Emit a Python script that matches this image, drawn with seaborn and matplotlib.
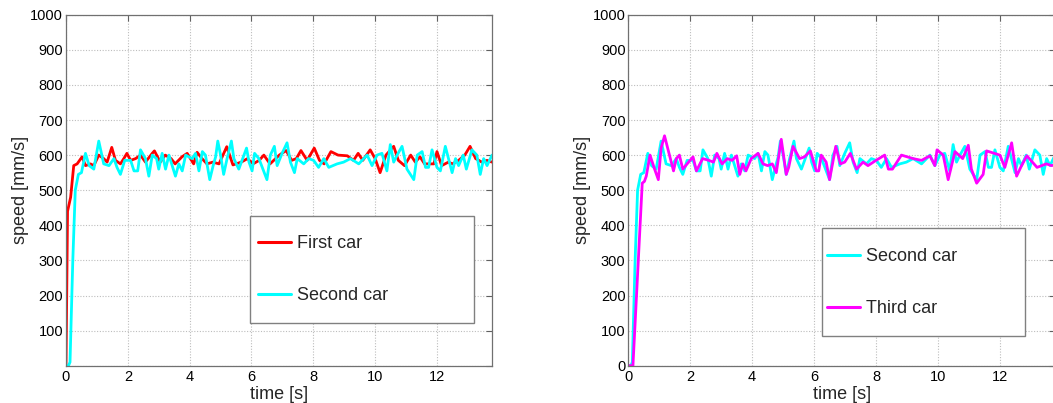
import numpy as np
import pandas as pd
import matplotlib
matplotlib.use("Agg")
import matplotlib.pyplot as plt
import seaborn as sns
from matplotlib.patches import Rectangle

# first car (left panel, red)
first_t = [0, 0.05, 0.15, 0.25, 0.36, 0.52, 0.63, 0.79, 0.90, 1.06, 1.22, 1.33, 1.48, 1.60,
           1.76, 1.87, 1.97, 2.09, 2.25, 2.41, 2.57, 2.79, 2.86, 3.05, 3.21, 3.40, 3.53, 3.75,
           3.92, 4.13, 4.24, 4.40, 4.56, 4.75, 4.95, 5.20, 5.40, 5.67, 5.87, 6.05, 6.25, 6.40,
           6.60, 6.90, 7.12, 7.30, 7.45, 7.60, 7.80, 8.03, 8.20, 8.35, 8.57, 8.80, 9.10, 9.30,
           9.45, 9.60, 9.84, 10.00, 10.16, 10.35, 10.60, 10.75, 10.95, 11.15, 11.30, 11.45,
           11.60, 11.90, 12.00, 12.15, 12.37, 12.50, 12.70, 12.90, 13.07, 13.25, 13.45, 13.62, 13.78]
first_v = [0, 440, 480, 570, 575, 595, 570, 575, 570, 600, 590, 580, 622, 585,
           575, 590, 605, 585, 590, 600, 580, 605, 612, 580, 600, 590, 575, 595,
           605, 575, 608, 590, 575, 580, 575, 624, 572, 580, 590, 575, 585, 600,
           575, 600, 613, 585, 590, 613, 585, 620, 585, 575, 610, 600, 598, 585,
           605, 585, 615, 590, 550, 600, 625, 585, 570, 600, 580, 595,
           575, 575, 610, 570, 580, 575, 585, 600, 625, 590, 580, 585, 580]

# second car (both panels, cyan)
second_t = [0, 0.08, 0.13, 0.22, 0.30, 0.40, 0.50, 0.63, 0.75, 0.90, 1.06, 1.22, 1.39, 1.55,
            1.65, 1.76, 1.90, 2.09, 2.20, 2.32, 2.41, 2.57, 2.68, 2.79, 2.93, 3.00, 3.11, 3.22,
            3.33, 3.54, 3.65, 3.76, 3.87, 4.08, 4.19, 4.30, 4.41, 4.51, 4.65, 4.76, 4.84, 4.91,
            5.00, 5.10, 5.21, 5.35, 5.43, 5.59, 5.84, 5.92, 6.02, 6.10, 6.24, 6.50, 6.61, 6.74,
            6.83, 6.99, 7.15, 7.26, 7.39, 7.48, 7.69, 7.85, 8.01, 8.17, 8.34, 8.50, 8.77, 8.98,
            9.20, 9.47, 9.74, 9.90, 10.06, 10.22, 10.38, 10.49, 10.60, 10.71, 10.87, 11.03,
            11.25, 11.36, 11.52, 11.63, 11.73, 11.84, 12.00, 12.11, 12.27, 12.49, 12.60, 12.70,
            12.85, 12.95, 13.13, 13.29, 13.40, 13.51, 13.62, 13.78, 13.90]
second_v = [0, 0, 10, 300, 500, 545, 550, 605, 570, 560, 640, 575, 570, 590,
            565, 545, 585, 585, 555, 555, 615, 590, 540, 600, 590, 560, 605, 560,
            600, 540, 575, 555, 600, 590, 605, 555, 610, 600, 530, 570, 595, 640,
            600, 545, 590, 640, 590, 560, 620, 580, 555, 605, 590, 530, 600, 625,
            570, 605, 635, 580, 550, 590, 575, 590, 585, 565, 590, 565, 575, 580,
            590, 575, 600, 570, 600, 605, 555, 630, 580, 600, 625, 560,
            530, 600, 610, 565, 565, 615, 565, 555, 625, 550, 590, 570,
            600, 560, 615, 600, 545, 590, 570, 600, 585]

# third car (right panel, magenta)
third_t = [0, 0.15, 0.45, 0.52, 0.58, 0.70, 0.85, 0.97, 1.06, 1.17, 1.30, 1.46, 1.55, 1.65,
           1.76, 1.90, 2.09, 2.20, 2.40, 2.60, 2.75, 2.86, 3.03, 3.20, 3.35, 3.50, 3.60, 3.70,
           3.80, 3.97, 4.19, 4.35, 4.50, 4.65, 4.78, 4.94, 5.10, 5.18, 5.32, 5.53, 5.69, 5.88,
           6.07, 6.15, 6.23, 6.39, 6.50, 6.70, 6.85, 6.99, 7.17, 7.37, 7.58, 7.74, 8.00, 8.28,
           8.40, 8.53, 8.82, 9.20, 9.47, 9.74, 9.90, 9.97, 10.17, 10.33, 10.55, 10.80, 10.98,
           11.08, 11.25, 11.46, 11.57, 12.00, 12.16, 12.38, 12.54, 12.70, 12.87, 13.20, 13.50,
           13.67, 13.90]
third_v = [0, 0, 520, 525, 540, 600, 560, 530, 620, 655, 610, 555, 590, 600,
           560, 575, 595, 555, 590, 585, 580, 605, 575, 590, 585, 598, 545, 575,
           555, 590, 605, 575, 570, 575, 550, 645, 545, 565, 625, 590, 595, 612,
           555, 555, 600, 580, 530, 625, 575, 580, 605, 560, 580, 570, 585, 600,
           560, 560, 600, 590, 585, 598, 570, 615, 600, 530, 610, 590, 628,
           560, 520, 545, 612, 600, 565, 635, 540, 570, 598, 565, 575,
           570, 575]

x_ticks = [0, 2, 4, 6, 8, 10, 12]
y_ticks = [0, 100, 200, 300, 400, 500, 600, 700, 800, 900, 1000]

sns.set_theme(style="white")
plt.rcParams["font.family"] = ["Liberation Sans", "DejaVu Sans"]

fig = plt.figure(figsize=(10.53, 4.03), dpi=100)
H = 403.0
W = 1053.0
ax1 = fig.add_axes([66 / W, (H - 365.7) / H, 426 / W, 351 / H])
ax2 = fig.add_axes([628.3 / W, (H - 365.7) / H, 426.7 / W, 351 / H])


def styled_axes(ax, show_zero):
    ax.set_xlim(0, 13.78)
    ax.set_ylim(0, 1000)
    ax.set_xticks(x_ticks)
    ax.set_yticks(y_ticks)
    ax.set_xticklabels([str(t) for t in x_ticks])
    labs = [str(v) for v in y_ticks]
    if not show_zero:
        labs[0] = ""
    ax.set_yticklabels(labs)
    ax.grid(True, color="#bdbdbd", linestyle=(0, (1, 1.5)), linewidth=0.8)
    ax.tick_params(direction="in", length=4, width=0.8, color="#606060",
                   top=True, right=True, labelsize=10.5, pad=2, labelcolor="black")
    ax.tick_params(axis="x", pad=3)
    for s in ax.spines.values():
        s.set_color("#707070")
        s.set_linewidth(0.9)
    ax.set_xlabel("time [s]", fontsize=13)
    ax.set_ylabel("speed [mm/s]", fontsize=13)
    ax.xaxis.set_label_coords(0.5, -0.057)
    ax.yaxis.set_label_coords(-0.087, 0.5)


def legend_box(ax, x0, y0, x1, y1, hx, hy):
    ax.add_patch(Rectangle((x0, y0), x1 - x0, y1 - y0, transform=ax.transAxes,
                           facecolor="white", edgecolor="#808080", linewidth=1.0,
                           zorder=4, clip_on=False))
    leg = ax.legend(loc="center left", bbox_to_anchor=(hx, hy), frameon=False,
                    fontsize=13, borderpad=0, handlelength=1.8, handletextpad=0.35,
                    labelspacing=1.95, borderaxespad=0)
    leg.set_zorder(5)
    for line in leg.get_lines():
        line.set_linewidth(2.2)


# left panel
df1 = pd.DataFrame({"t": first_t, "v": first_v})
df2 = pd.DataFrame({"t": second_t, "v": second_v})
df3 = pd.DataFrame({"t": third_t, "v": third_v})

sns.lineplot(data=df1, x="t", y="v", ax=ax1, color="#ff0000", linewidth=2.0,
             label="First car", sort=False)
sns.lineplot(data=df2, x="t", y="v", ax=ax1, color="#00ffff", linewidth=2.0,
             label="Second car", sort=False)
styled_axes(ax1, show_zero=False)
legend_box(ax1, 0.432, 0.1217, 0.958, 0.4265, 0.451, 0.274)

# right panel
sns.lineplot(data=df2, x="t", y="v", ax=ax2, color="#00ffff", linewidth=2.0,
             label="Second car", sort=False)
sns.lineplot(data=df3, x="t", y="v", ax=ax2, color="#ff00ff", linewidth=2.0,
             label="Third car", sort=False)
styled_axes(ax2, show_zero=True)
legend_box(ax2, 0.454, 0.0846, 0.93, 0.392, 0.466, 0.237)

fig.savefig("out.png", dpi=100)
